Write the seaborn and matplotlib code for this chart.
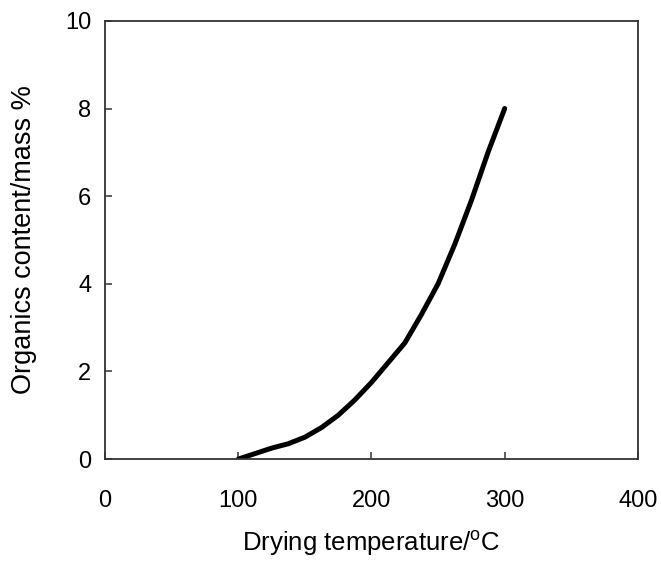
import pandas as pd
import matplotlib
matplotlib.use('Agg')
import matplotlib.pyplot as plt
import seaborn as sns

# Values
temperature = [100, 125, 137.5, 150, 162.5, 175, 187.5, 200, 212.5, 225,
               237.5, 250, 262.5, 275, 287.5, 300]
organics = [0.0, 0.25, 0.35, 0.5, 0.72, 1.0, 1.35, 1.75, 2.2, 2.65,
            3.3, 4.0, 4.9, 5.9, 7.0, 8.0]

x_ticks = [0, 100, 200, 300, 400]
y_ticks = [0, 2, 4, 6, 8, 10]

df = pd.DataFrame({'temperature': temperature, 'organics': organics})

sns.set_style('ticks')
plt.rcParams['font.family'] = ['Liberation Sans', 'DejaVu Sans']
plt.rcParams['mathtext.fontset'] = 'custom'
plt.rcParams['mathtext.rm'] = 'Liberation Sans'
plt.rcParams['text.color'] = 'black'
plt.rcParams['axes.labelcolor'] = 'black'
plt.rcParams['xtick.labelcolor'] = 'black'
plt.rcParams['ytick.labelcolor'] = 'black'

fig = plt.figure(figsize=(6.61, 5.64), dpi=100)
ax = fig.add_axes([0.159, 0.186, 0.806, 0.777])

sns.lineplot(data=df, x='temperature', y='organics', ax=ax,
             color='black', linewidth=3.6, sort=False)

ax.set_xlim(0, 400)
ax.set_ylim(0, 10)
ax.set_xticks(x_ticks)
ax.set_yticks(y_ticks)
ax.tick_params(direction='in', length=5, width=1.1, labelsize=17,
               color='#333333', pad=10)
ax.tick_params(axis='x', pad=22)
for s in ax.spines.values():
    s.set_linewidth(1.3)
    s.set_color('#333333')

ax.set_xlabel('Drying temperature/$^{\\mathregular{o}}$C', fontsize=18.5, labelpad=12)
ax.set_ylabel('Organics content/mass %', fontsize=19.5, labelpad=20)

fig.savefig('out.png', dpi=100)
